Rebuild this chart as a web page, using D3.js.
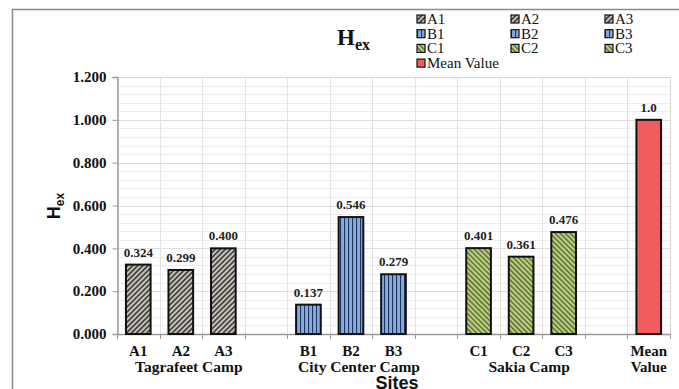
<!DOCTYPE html>
<html>
<head>
<meta charset="utf-8">
<script src="https://cdn.jsdelivr.net/npm/d3@7"></script>
<style>
  html, body { margin: 0; padding: 0; background: #fff; }
  svg { display: block; }
</style>
</head>
<body>
<svg id="chart" width="679" height="389"></svg>
<script>
// Sites along the x axis (blank slots separate the camps)
const sites = ["A1", "A2", "A3", "gap1", "B1", "B2", "B3", "gap2", "C1", "C2", "C3", "gap3", "Mean"];
const siteLabels = ["A1", "A2", "A3", "", "B1", "B2", "B3", "", "C1", "C2", "C3", "", "Mean\nValue"];
const hexValues = [0.324, 0.299, 0.400, null, 0.137, 0.546, 0.279, null, 0.401, 0.361, 0.476, null, 1.0];
const valueLabels = ["0.324", "0.299", "0.400", "", "0.137", "0.546", "0.279", "", "0.401", "0.361", "0.476", "", "1.0"];
const siteGroup = ["A", "A", "A", null, "B", "B", "B", null, "C", "C", "C", null, "M"];
const camps = ["Tagrafeet Camp", "City Center Camp", "Sakia Camp"];
const campCenters = ["A2", "B2", "C2"];
const yTicks = [0, 0.2, 0.4, 0.6, 0.8, 1.0, 1.2];
const legendItems = ["A1", "A2", "A3", "B1", "B2", "B3", "C1", "C2", "C3", "Mean Value"];
const legendGroup = ["A", "A", "A", "B", "B", "B", "C", "C", "C", "M"];

const svg = d3.select("#chart");
const W = 679, H = 389;
const plot = { left: 117, right: 670, top: 77, bottom: 334 };

const serif = "'Liberation Serif', 'Times New Roman', serif";
const sans = "'Liberation Sans', Arial, sans-serif";

// Outer frame
svg.append("rect").attr("x", 12.5).attr("y", 9.5).attr("width", 700).attr("height", 400)
  .attr("fill", "#fff").attr("stroke", "#8a8a8a").attr("stroke-width", 1.5);

// Fill patterns for each camp
const defs = svg.append("defs");
function stripes(id, bg, fg, angle, gap, w) {
  const p = defs.append("pattern").attr("id", id).attr("patternUnits", "userSpaceOnUse")
    .attr("width", gap).attr("height", gap).attr("patternTransform", `rotate(${angle})`);
  p.append("rect").attr("width", gap).attr("height", gap).attr("fill", bg);
  p.append("rect").attr("x", 0).attr("y", 0).attr("width", w).attr("height", gap).attr("fill", fg);
}
stripes("patA", "#c9c5bf", "#3b3631", 45, 3.6, 1.6);
stripes("patB", "#86abdf", "#22375e", 0, 4, 1.1);
stripes("patC", "#bcd283", "#56652c", -45, 3.6, 1.4);
const fillOf = g => g === "A" ? "url(#patA)" : g === "B" ? "url(#patB)" : g === "C" ? "url(#patC)" : "#f25c5e";

// Scales
const x = d3.scaleBand().domain(sites).range([plot.left, plot.right])
  .paddingInner(0.42).paddingOuter(0.21);
const y = d3.scaleLinear().domain([0, 1.2]).range([plot.bottom, plot.top]);
const step = x.step();
const boundaries = d3.range(sites.length + 1).map(i => plot.left + i * step);

// Minor horizontal gridlines
const minor = d3.range(0, 1.2001, 0.04);
svg.append("g").selectAll("line").data(minor).join("line")
  .attr("x1", plot.left).attr("x2", plot.right)
  .attr("y1", d => Math.round(y(d)) + 0.5).attr("y2", d => Math.round(y(d)) + 0.5)
  .attr("stroke", "#ececec").attr("stroke-width", 1);
// Major horizontal gridlines
svg.append("g").selectAll("line").data(yTicks).join("line")
  .attr("x1", plot.left).attr("x2", plot.right)
  .attr("y1", d => Math.round(y(d)) + 0.5).attr("y2", d => Math.round(y(d)) + 0.5)
  .attr("stroke", "#dedede").attr("stroke-width", 1);
// Vertical gridlines at slot boundaries
svg.append("g").selectAll("line").data(boundaries).join("line")
  .attr("x1", d => Math.round(d) + 0.5).attr("x2", d => Math.round(d) + 0.5)
  .attr("y1", plot.top).attr("y2", plot.bottom)
  .attr("stroke", "#e4e4e4").attr("stroke-width", 1);
// Plot area border (top and right)
svg.append("path")
  .attr("d", `M${plot.left},${plot.top + 0.5}H${plot.right + 0.5}V${plot.bottom}`)
  .attr("fill", "none").attr("stroke", "#d8d8d8");

// Y axis
const yAxis = svg.append("g").attr("transform", `translate(${plot.left + 0.5},0)`)
  .call(d3.axisLeft(y).tickValues(yTicks).tickFormat(d3.format(".3f")).tickSize(5).tickPadding(6));
yAxis.select(".domain").attr("stroke", "#9a9a9a").attr("stroke-width", 1.5);
yAxis.selectAll(".tick line").attr("stroke", "#9a9a9a");
yAxis.selectAll(".tick text").attr("font-family", serif).attr("font-size", 15)
  .attr("font-weight", "bold").attr("fill", "#111");

// X axis line and ticks at slot boundaries
const xAxisG = svg.append("g");
xAxisG.append("line").attr("x1", plot.left).attr("x2", plot.right + 1)
  .attr("y1", plot.bottom + 0.5).attr("y2", plot.bottom + 0.5)
  .attr("stroke", "#9a9a9a").attr("stroke-width", 1.5);
xAxisG.selectAll("line.tk").data(boundaries).join("line").attr("class", "tk")
  .attr("x1", d => Math.round(d) + 0.5).attr("x2", d => Math.round(d) + 0.5)
  .attr("y1", plot.bottom).attr("y2", plot.bottom + 5)
  .attr("stroke", "#9a9a9a");

// Bars
const data = sites.map((s, i) => ({ site: s, v: hexValues[i], g: siteGroup[i], lab: valueLabels[i], name: siteLabels[i] }));
const bars = data.filter(d => d.v !== null);
svg.append("g").selectAll("rect").data(bars).join("rect")
  .attr("x", d => x(d.site)).attr("width", x.bandwidth())
  .attr("y", d => y(d.v)).attr("height", d => y(0) - y(d.v))
  .attr("fill", d => fillOf(d.g)).attr("stroke", "#111").attr("stroke-width", 2);

// Value labels
svg.append("g").selectAll("text").data(bars).join("text")
  .attr("x", d => x(d.site) + x.bandwidth() / 2).attr("y", d => y(d.v) - 8)
  .attr("text-anchor", "middle").attr("font-family", serif).attr("font-size", 13)
  .attr("font-weight", "bold").attr("fill", "#222").text(d => d.lab);

// Site labels
const sl = svg.append("g").selectAll("text").data(data.filter(d => d.name)).join("text")
  .attr("text-anchor", "middle").attr("font-family", serif).attr("font-size", 15)
  .attr("font-weight", "bold").attr("fill", "#111");
sl.each(function (d) {
  const lines = d.name.split("\n");
  const t = d3.select(this);
  lines.forEach((ln, k) => {
    t.append("tspan").attr("x", x(d.site) + x.bandwidth() / 2)
      .attr("y", plot.bottom + 22 + k * 16).text(ln);
  });
});

// Camp labels
svg.append("g").selectAll("text").data(camps).join("text")
  .attr("x", (d, i) => x(campCenters[i]) + x.bandwidth() / 2 + 8)
  .attr("y", plot.bottom + 38)
  .attr("text-anchor", "middle").attr("font-family", serif).attr("font-size", 15.5)
  .attr("font-weight", "bold").attr("fill", "#111").text(d => d);

// X axis title
svg.append("text").attr("x", 397).attr("y", 389)
  .attr("text-anchor", "middle").attr("font-family", sans).attr("font-size", 18)
  .attr("font-weight", "bold").attr("fill", "#111").text("Sites");

// Y axis title
const yt = svg.append("text").attr("transform", "translate(60,206) rotate(-90)")
  .attr("text-anchor", "middle").attr("font-family", sans).attr("font-size", 18)
  .attr("font-weight", "bold").attr("fill", "#111");
yt.append("tspan").text("H");
yt.append("tspan").attr("font-size", 12).attr("dy", 4).text("ex");

// Chart title
const tt = svg.append("text").attr("x", 337).attr("y", 45)
  .attr("font-family", serif).attr("font-size", 23).attr("font-weight", "bold").attr("fill", "#111");
tt.append("tspan").text("H");
tt.append("tspan").attr("font-size", 16).attr("dy", 5).text("ex");

// Legend
const legCols = [417, 511, 605];
const leg = svg.append("g").selectAll("g").data(legendItems).join("g")
  .attr("transform", (d, i) => `translate(${legCols[i % 3]},${19 + Math.floor(i / 3) * 14.7})`);
leg.append("rect").attr("x", 0).attr("y", -4).attr("width", 8).attr("height", 8)
  .attr("fill", (d, i) => fillOf(legendGroup[i])).attr("stroke", "#111").attr("stroke-width", 1.2);
leg.append("text").attr("x", 10).attr("y", 5).attr("font-family", serif).attr("font-size", 15)
  .attr("fill", "#111").text(d => d);
</script>
</body>
</html>
